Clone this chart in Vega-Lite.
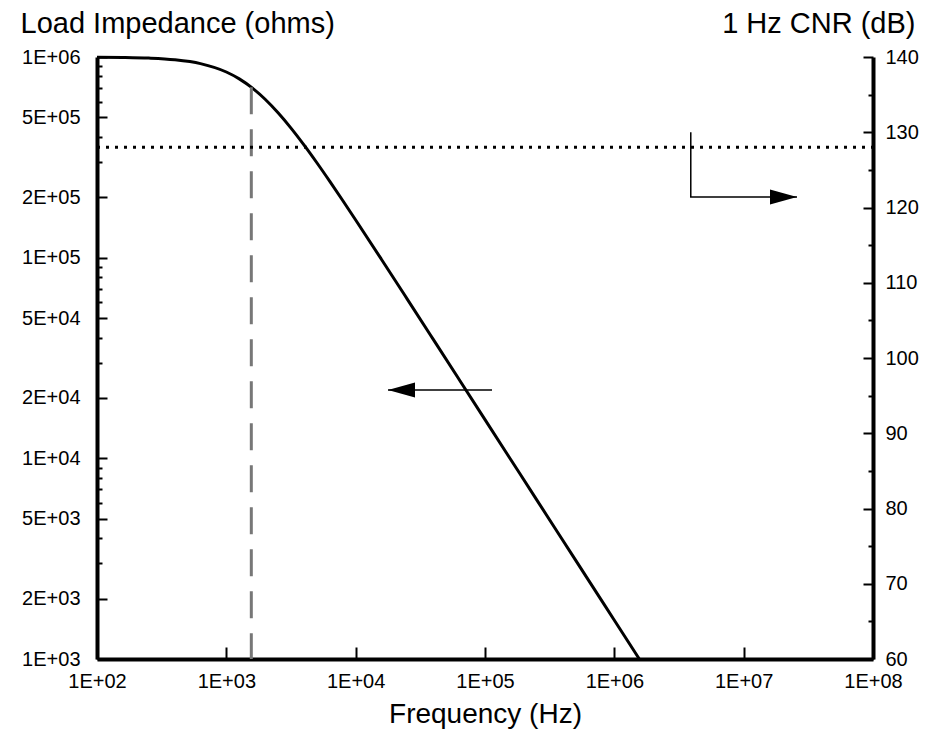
{
  "$schema": "https://vega.github.io/schema/vega-lite/v6.json",
  "width": 776,
  "height": 602,
  "autosize": {"type": "none"},
  "padding": {"left": 97, "top": 57, "right": 53, "bottom": 77},
  "background": "white",
  "config": {
    "view": {"stroke": null},
    "font": "Liberation Sans",
    "axis": {
      "grid": false,
      "domainColor": "black",
      "domainWidth": 4,
      "tickColor": "black",
      "tickWidth": 2,
      "labelColor": "black",
      "labelFontSize": 20,
      "labelFont": "Liberation Sans",
      "titleFont": "Liberation Sans",
      "titleColor": "black",
      "titleFontWeight": "normal"
    }
  },
  "datasets": {
    "curve": [
      {"f": 100, "z": 997950}, {"f": 158.5, "z": 994880}, {"f": 251.2, "z": 987280},
      {"f": 398.1, "z": 968950}, {"f": 631, "z": 927040}, {"f": 1000, "z": 841880},
      {"f": 1259, "z": 778170}, {"f": 1585, "z": 701460}, {"f": 1995, "z": 615970},
      {"f": 2512, "z": 527580}, {"f": 3162, "z": 442430}, {"f": 3981, "z": 364850},
      {"f": 5012, "z": 297190}, {"f": 6310, "z": 240000}, {"f": 7943, "z": 192720},
      {"f": 10000, "z": 154140}, {"f": 15849, "z": 97955}, {"f": 25119, "z": 61985},
      {"f": 39811, "z": 39155}, {"f": 63096, "z": 24717}, {"f": 100000, "z": 15598},
      {"f": 158489, "z": 9842}, {"f": 251189, "z": 6210}, {"f": 398107, "z": 3919},
      {"f": 630957, "z": 2472}, {"f": 1000000, "z": 1560}, {"f": 1560000, "z": 1000}
    ],
    "cutoff": [{"f": 1560, "z": 707000, "z2": 1000}],
    "leftArrow": [{"f": 113300, "f2": 17780, "z": 21900}],
    "leftHead": [{"f": 17780, "z": 21900}],
    "noise": [{"f": 100, "f2": 100000000, "cnr": 128}],
    "rightArrow": [
      {"f": 3900000, "cnr": 130, "seq": 1},
      {"f": 3900000, "cnr": 121.4, "seq": 2},
      {"f": 25850000, "cnr": 121.4, "seq": 3}
    ],
    "rightHead": [{"f": 25850000, "cnr": 121.4}]
  },
  "encoding": {
    "x": {
      "field": "f", "type": "quantitative",
      "scale": {"type": "log", "domain": [100, 100000000]},
      "axis": {
        "values": [100, 1000, 10000, 100000, 1000000, 10000000, 100000000],
        "labelExpr": "'1E+0' + round(log(datum.value)/LN10)",
        "domainWidth": 4,
        "domainColor": "black",
        "tickWidth": 2,
        "tickColor": "black",
        "tickSize": -12,
        "labelPadding": 24,
        "labelFlush": false,
        "labelOverlap": false,
        "title": "Frequency (Hz)",
        "titleFontSize": 28,
        "titleY": 63,
        "titleBaseline": "alphabetic"
      }
    }
  },
  "layer": [
    {
      "encoding": {
        "y": {
          "field": "z", "type": "quantitative",
          "scale": {"type": "log", "domain": [1000, 1000000]},
          "axis": {
            "values": [1000, 2000, 3000, 4000, 5000, 6000, 7000, 8000, 9000, 10000, 20000, 30000, 40000, 50000, 60000, 70000, 80000, 90000, 100000, 200000, 300000, 400000, 500000, 600000, 700000, 800000, 900000, 1000000],
            "labelExpr": "(round(datum.value / pow(10, floor(log(datum.value)/LN10 + 0.000001))) == 1 || round(datum.value / pow(10, floor(log(datum.value)/LN10 + 0.000001))) == 2 || round(datum.value / pow(10, floor(log(datum.value)/LN10 + 0.000001))) == 5) ? round(datum.value / pow(10, floor(log(datum.value)/LN10 + 0.000001))) + 'E+0' + floor(log(datum.value)/LN10 + 0.000001) : ''",
            "domainWidth": 4,
            "domainColor": "black",
            "tickWidth": 2,
            "tickColor": "black",
            "tickSize": -10,
            "tickDash": {"condition": {"test": "round(datum.value / pow(10, floor(log(datum.value)/LN10 + 0.000001))) == 1 || round(datum.value / pow(10, floor(log(datum.value)/LN10 + 0.000001))) == 2 || round(datum.value / pow(10, floor(log(datum.value)/LN10 + 0.000001))) == 5", "value": [12, 0]}, "value": [5, 30]},
            "labelPadding": 27,
            "labelFlush": false,
            "labelOverlap": false,
            "title": "Load Impedance (ohms)",
            "titleAngle": 0,
            "titleAlign": "left",
            "titleBaseline": "alphabetic",
            "titleX": -77,
            "titleY": -25,
            "titleFontSize": 29
          }
        }
      },
      "layer": [
        {
          "data": {"name": "curve"},
          "mark": {"type": "line", "color": "black", "strokeWidth": 3, "interpolate": "monotone"},
          "encoding": {}
        },
        {
          "data": {"name": "cutoff"},
          "mark": {"type": "rule", "color": "#777777", "strokeWidth": 3, "strokeDash": [27, 15], "strokeCap": "butt"},
          "encoding": {"y2": {"field": "z2"}}
        },
        {
          "data": {"name": "leftArrow"},
          "mark": {"type": "rule", "color": "black", "strokeWidth": 1.5},
          "encoding": {"x2": {"field": "f2"}}
        },
        {
          "data": {"name": "leftHead"},
          "mark": {"type": "point", "shape": "M0,0L2,-0.55L2,0.55Z", "size": 729, "filled": true, "color": "black", "opacity": 1},
          "encoding": {}
        }
      ]
    },
    {
      "encoding": {
        "y": {
          "field": "cnr", "type": "quantitative",
          "scale": {"domain": [60, 140], "zero": false},
          "axis": {
            "orient": "right",
            "values": [60, 65, 70, 75, 80, 85, 90, 95, 100, 105, 110, 115, 120, 125, 130, 135, 140],
            "labelExpr": "datum.value % 10 == 0 ? datum.label : ''",
            "domainWidth": 4,
            "domainColor": "black",
            "tickWidth": 2,
            "tickColor": "black",
            "tickSize": -10,
            "tickDash": {"condition": {"test": "datum.value % 10 == 0", "value": [12, 0]}, "value": [5, 30]},
            "labelPadding": 22,
            "labelFlush": false,
            "labelOverlap": false,
            "title": "1 Hz CNR (dB)",
            "titleAngle": 0,
            "titleAlign": "right",
            "titleBaseline": "alphabetic",
            "titleX": 42,
            "titleY": -25,
            "titleFontSize": 29
          }
        }
      },
      "layer": [
        {
          "data": {"name": "rightArrow"},
          "mark": {"type": "line", "color": "black", "strokeWidth": 1.5},
          "encoding": {"order": {"field": "seq", "type": "quantitative"}}
        },
        {
          "data": {"name": "noise"},
          "mark": {"type": "rule", "color": "black", "strokeWidth": 3, "strokeDash": [3, 6], "strokeCap": "butt"},
          "encoding": {"x2": {"field": "f2"}}
        },
        {
          "data": {"name": "rightHead"},
          "mark": {"type": "point", "shape": "M0,0L-2,-0.55L-2,0.55Z", "size": 729, "filled": true, "color": "black", "opacity": 1},
          "encoding": {}
        }
      ]
    }
  ],
  "resolve": {"scale": {"y": "independent"}}
}
